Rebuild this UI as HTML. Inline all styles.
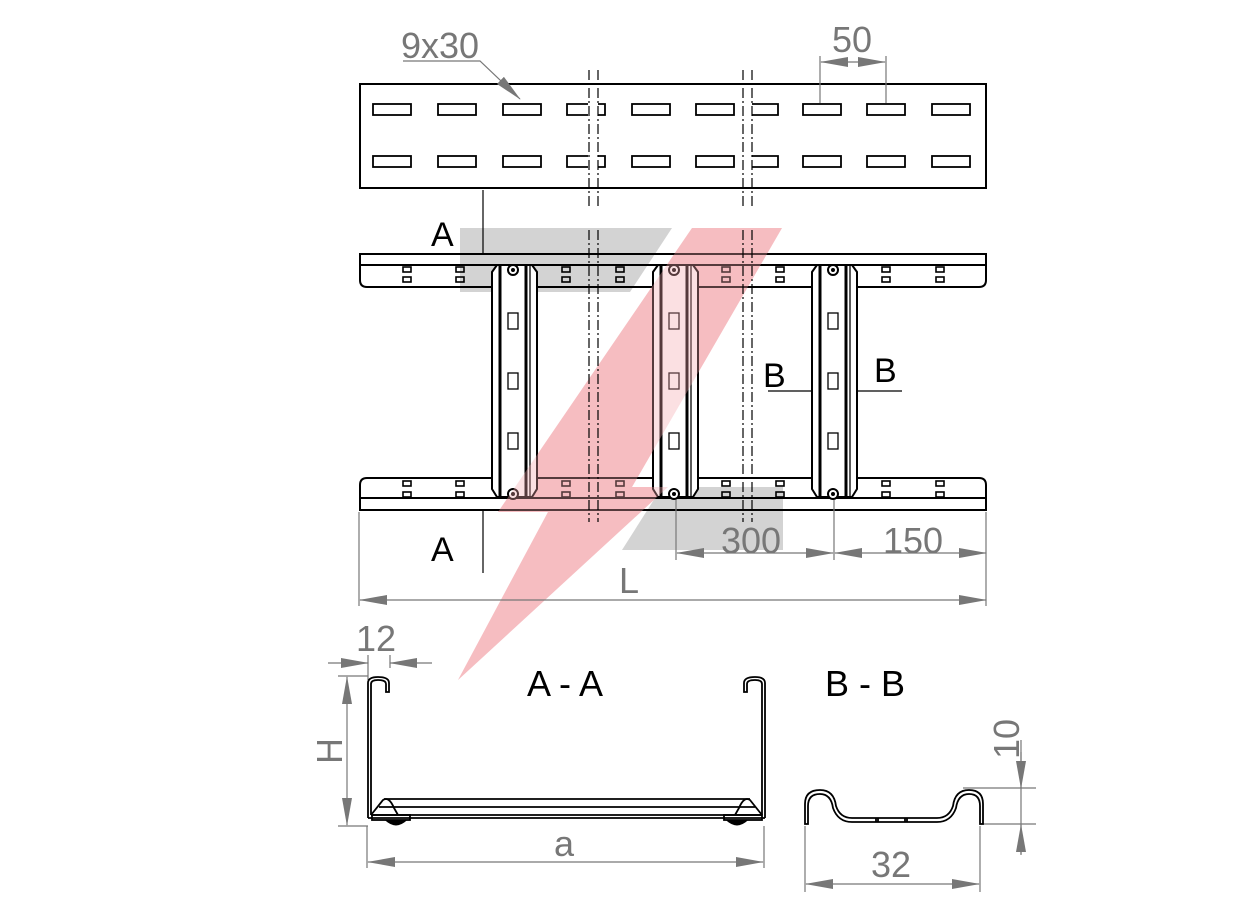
<!DOCTYPE html>
<html><head><meta charset="utf-8"><style>
html,body{margin:0;padding:0;background:#fff}
svg{display:block}
text{font-family:"Liberation Sans",sans-serif}
</style></head><body>
<svg width="1242" height="908" viewBox="0 0 1242 908" xmlns="http://www.w3.org/2000/svg">
<defs>
<marker id="ar" markerWidth="28" markerHeight="10" refX="27" refY="5" orient="auto" markerUnits="userSpaceOnUse"><path d="M0,0 L28,5 L0,10 Z" fill="#777"/></marker>
</defs>
<polygon points="460,228 672,228 630,292 460,292" fill="#d3d3d3"/>
<polygon points="662,487 783,487 783,550 622,550" fill="#d3d3d3"/>
<polygon points="692,228 782,228 632,487 668,487 458,680 548,512 498,512" fill="#f4a7ac" opacity="0.6"/>

<g fill="none" stroke="#000" stroke-width="2">
<rect x="360" y="84" width="626" height="104"/>
<g stroke-width="1.8">
<rect x="373" y="104" width="38" height="11"/><rect x="438" y="104" width="38" height="11"/><rect x="503" y="104" width="38" height="11"/>
<path d="M588,104 H567 V115 H588 M598,104 H605 V115 H598"/>
<rect x="632" y="104" width="38" height="11"/><rect x="696" y="104" width="38" height="11"/>
<path d="M752,104 H778 V115 H752"/>
<rect x="803" y="104" width="38" height="11"/><rect x="867" y="104" width="38" height="11"/><rect x="932" y="104" width="38" height="11"/>
<rect x="373" y="156" width="38" height="11"/><rect x="438" y="156" width="38" height="11"/><rect x="503" y="156" width="38" height="11"/>
<path d="M588,156 H567 V167 H588 M598,156 H605 V167 H598"/>
<rect x="632" y="156" width="38" height="11"/><rect x="696" y="156" width="38" height="11"/>
<path d="M752,156 H778 V167 H752"/>
<rect x="803" y="156" width="38" height="11"/><rect x="867" y="156" width="38" height="11"/><rect x="932" y="156" width="38" height="11"/>
</g>
<path d="M360,254 H986 V280 Q986,287 979,287 H367 Q360,287 360,280 Z"/>
<line x1="360" y1="265" x2="986" y2="265"/>
<path d="M360,510 H986 V485 Q986,478 979,478 H367 Q360,478 360,485 Z"/>
<line x1="360" y1="498" x2="986" y2="498"/>
<g stroke-width="1.6">
<rect x="403" y="267" width="8" height="5"/><rect x="403" y="277" width="8" height="5"/>
<rect x="456" y="267" width="8" height="5"/><rect x="456" y="277" width="8" height="5"/>
<rect x="562" y="267" width="8" height="5"/><rect x="562" y="277" width="8" height="5"/>
<rect x="616" y="267" width="8" height="5"/><rect x="616" y="277" width="8" height="5"/>
<rect x="722" y="267" width="8" height="5"/><rect x="722" y="277" width="8" height="5"/>
<rect x="776" y="267" width="8" height="5"/><rect x="776" y="277" width="8" height="5"/>
<rect x="882" y="267" width="8" height="5"/><rect x="882" y="277" width="8" height="5"/>
<rect x="936" y="267" width="8" height="5"/><rect x="936" y="277" width="8" height="5"/>
<rect x="403" y="481" width="8" height="5"/><rect x="403" y="492" width="8" height="5"/>
<rect x="456" y="481" width="8" height="5"/><rect x="456" y="492" width="8" height="5"/>
<rect x="562" y="481" width="8" height="5"/><rect x="562" y="492" width="8" height="5"/>
<rect x="616" y="481" width="8" height="5"/><rect x="616" y="492" width="8" height="5"/>
<rect x="722" y="481" width="8" height="5"/><rect x="722" y="492" width="8" height="5"/>
<rect x="776" y="481" width="8" height="5"/><rect x="776" y="492" width="8" height="5"/>
<rect x="882" y="481" width="8" height="5"/><rect x="882" y="492" width="8" height="5"/>
<rect x="936" y="481" width="8" height="5"/><rect x="936" y="492" width="8" height="5"/>
</g>
</g>
<g id="rung" fill="#fff" stroke="#000" stroke-width="2">
<path d="M492,272 L497,265 H532 L537,272 V489 L532,497 H497 L492,489 Z"/>
<line x1="500" y1="266" x2="500" y2="496" stroke-width="3"/>
<line x1="526" y1="266" x2="526" y2="496" stroke-width="3"/>
<line x1="530" y1="266" x2="530" y2="496" stroke-width="1.3"/>
<circle cx="513" cy="270" r="5"/><circle cx="513" cy="270" r="1" fill="#000"/>
<circle cx="513" cy="494" r="5"/><circle cx="513" cy="494" r="1" fill="#000"/>
<rect x="508" y="313" width="10" height="16" stroke-width="1.3"/>
<rect x="508" y="373" width="10" height="16" stroke-width="1.3"/>
<rect x="508" y="433" width="10" height="16" stroke-width="1.3"/>
</g>
<use href="#rung" transform="translate(161,0)"/>
<use href="#rung" transform="translate(320,0)"/>
<polygon points="692,228 782,228 632,487 668,487 458,680 548,512 498,512" fill="#f4a7ac" opacity="0.35"/>

<g stroke="#000" stroke-width="1.2" stroke-dasharray="10,3,2,3" fill="none">
<path d="M589,70 V206 M598,70 V206 M743,70 V206 M752,70 V206"/>
<path d="M589,230 V522 M598,230 V522 M743,230 V522 M752,230 V522"/>
</g>

<g stroke="#000" stroke-width="1.2">
<line x1="483" y1="190" x2="483" y2="254"/>
<line x1="483" y1="510" x2="483" y2="573"/>
<line x1="768" y1="391" x2="812" y2="391"/>
<line x1="856" y1="391" x2="902" y2="391"/>
</g>
<g font-size="34" fill="#000">
<text x="431" y="246">A</text><text x="431" y="561">A</text>
<text x="763" y="387">B</text><text x="874" y="382">B</text>
</g>

<g stroke="#777" stroke-width="1.2" fill="none">
<path d="M403,61 H480 L520,99" marker-end="url(#ar)"/>
<path d="M820,103 V56 M886,103 V56"/>
<line x1="853" y1="62" x2="821" y2="62" marker-end="url(#ar)"/>
<line x1="853" y1="62" x2="885" y2="62" marker-end="url(#ar)"/>
<path d="M359,512 V606 M986,512 V606 M676,500 V560 M834,500 V560"/>
<line x1="640" y1="600" x2="360" y2="600" marker-end="url(#ar)"/>
<line x1="640" y1="600" x2="986" y2="600" marker-end="url(#ar)"/>
<line x1="755" y1="553" x2="677" y2="553" marker-end="url(#ar)"/>
<line x1="755" y1="553" x2="833" y2="553" marker-end="url(#ar)"/>
<line x1="910" y1="553" x2="835" y2="553" marker-end="url(#ar)"/>
<line x1="910" y1="553" x2="986" y2="553" marker-end="url(#ar)"/>
<path d="M368,655 V680 M390,655 V668"/>
<line x1="328" y1="663" x2="368" y2="663" marker-end="url(#ar)"/>
<line x1="432" y1="663" x2="390" y2="663" marker-end="url(#ar)"/>
<path d="M338,676 H368 M338,826 H368"/>
<line x1="347" y1="750" x2="347" y2="677" marker-end="url(#ar)"/>
<line x1="347" y1="750" x2="347" y2="825" marker-end="url(#ar)"/>
<path d="M367,826 V868 M764,826 V868"/>
<line x1="565" y1="862" x2="368" y2="862" marker-end="url(#ar)"/>
<line x1="565" y1="862" x2="763" y2="862" marker-end="url(#ar)"/>
<path d="M805,826 V892 M980,826 V892"/>
<line x1="893" y1="884" x2="806" y2="884" marker-end="url(#ar)"/>
<line x1="893" y1="884" x2="979" y2="884" marker-end="url(#ar)"/>
<path d="M963,788 H1036 M980,824 H1036 M1021,740 V854"/>
<line x1="1021" y1="752" x2="1021" y2="788" marker-end="url(#ar)"/>
<line x1="1021" y1="855" x2="1021" y2="825" marker-end="url(#ar)"/>
</g>
<g font-size="36" fill="#777">
<text x="401" y="58">9x30</text>
<text x="832" y="52">50</text>
<text x="619" y="593">L</text>
<text x="721" y="553">300</text>
<text x="883" y="553">150</text>
<text x="356" y="651">12</text>
<text x="554" y="856">a</text>
<text x="871" y="877">32</text>
<text transform="translate(342,764) rotate(-90)">H</text>
<text transform="translate(1019,759) rotate(-90)">10</text>
</g>
<g font-size="36" fill="#000">
<text x="527" y="696">A - A</text>
<text x="825" y="696">B - B</text>
</g>

<g fill="none" stroke="#000" stroke-width="1.8">
<path d="M368,818 V683 Q368,677 378,677 Q389,677 389,683 V692 H386 V684 Q386,680 378,680 Q371,680 371,684 V815"/>
<path d="M765,818 V683 Q765,677 755,677 Q744,677 744,683 V692 H747 V684 Q747,680 755,680 Q762,680 762,684 V815"/>
<path d="M368,818 H765 M371,815 H762"/>
<path d="M384,799 H750 M379,807 H755"/>
<path d="M371,815 L383,800 Q389,796 394,808 L398,815"/>
<path d="M762,815 L750,800 Q744,796 739,808 L735,815"/>
<rect x="372" y="815" width="38" height="5"/>
<rect x="724" y="815" width="38" height="5"/>
<path d="M386,820 Q396,829 406,820" fill="#000"/>
<path d="M727,820 Q737,829 747,820" fill="#000"/>
</g>

<g fill="none" stroke="#000" stroke-width="1.8">
<path d="M805,824 V804 Q805,790 820,790 Q834,790 836,806 Q840,818 852,818 H937 Q949,818 953,806 Q955,790 969,790 Q983,790 983,804 V824 H980 V806 Q980,794 969,794 Q958,794 956,808 Q951,822 937,822 H852 Q838,822 833,808 Q831,794 820,794 Q808,794 808,806 V824 Z"/>
<path d="M876,818 V822 M878,818 V822 M905,818 V822 M907,818 V822"/>
</g>
</svg>
</body></html>
